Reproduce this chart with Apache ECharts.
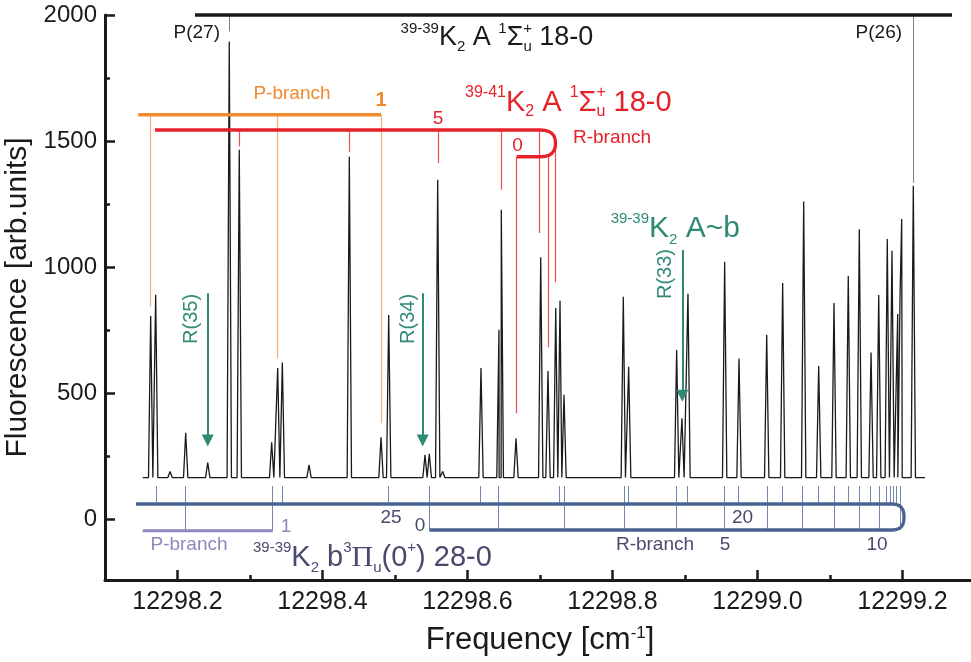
<!DOCTYPE html>
<html><head><meta charset="utf-8">
<script src="https://cdn.jsdelivr.net/npm/echarts@6/dist/echarts.min.js"></script>
<style>html,body{margin:0;padding:0;background:#fff}#c{width:971px;height:662px}</style>
</head><body><div id="c"></div>
<script>
const FONT = '"Liberation Sans", Arial, sans-serif';
const SERIF = '"Liberation Serif", "Times New Roman", serif';

// ---- axes ----
const xMajorTicks = [12298.2, 12298.4, 12298.6, 12298.8, 12299.0, 12299.2];
const xMinorTicks = [12298.3, 12298.5, 12298.7, 12298.9, 12299.1];
const yMajorTicks = [0, 500, 1000, 1500, 2000];
const yMinorTicks = [250, 750, 1250, 1750];

// ---- spectrum (peak positions / heights) ----
const peakX = [12298.1630,12298.1699,12298.1897,12298.2113,12298.2417,12298.2714,12298.2852,12298.3299,12298.3382,12298.3446,
  12298.3814,12298.4370,12298.4807,12298.4913,12298.5414,12298.5473,12298.5589,12298.5658,12298.6186,12298.6434,
  12298.6466,12298.6669,12298.7010,12298.7110,12298.7217,12298.7276,12298.7331,12298.8149,12298.8223,12298.8885,
  12298.8958,12298.9041,12298.9547,12298.9745,12299.0127,12299.0347,12299.0637,12299.0844,12299.1055,12299.1252,
  12299.1404,12299.1566,12299.1672,12299.1790,12299.1855,12299.1934,12299.1966,12299.1989,12299.2149];
const peakY = [807,891,190,344,225,1895,1466,306,600,622,
  216,1438,326,811,256,260,1347,190,600,752,
  1228,322,1040,589,838,867,494,883,605,672,
  401,895,1022,638,732,937,1261,608,858,965,
  1151,662,890,1112,1065,815,884,1191,1323];
const baseline = 166;
const spectrumStart = 12298.152, spectrumEnd = 12299.231;
const peakHalfWidth = 0.003;

// ---- annotation geometry (data coordinates) ----
const topBar = [[12298.2241, 2000], [12299.2683, 2000]];
const grayMarks = [[12298.2714, 2000, 1935], [12299.2149, 2000, 1335]];
const orangeBar = [[12298.1459, 1604.5], [12298.4807, 1604.5]];
const orangeMarks = [[12298.1630, 1604.5, 843], [12298.3382, 1604.5, 639], [12298.4807, 1604.5, 381]];
const redU = [[12298.1690,1544],[12298.7000,1544],[12298.7124,1538],[12298.7193,1520],[12298.7214,1491],
  [12298.7193,1463],[12298.7124,1444],[12298.7000,1438],[12298.6679,1438]];
const redMarks = [[12298.2852,1544,1479],[12298.4370,1544,1458],[12298.5597,1544,1413],[12298.6462,1544,1307],
  [12298.6679,1438,421],[12298.6991,1544,1136],[12298.7110,1444,683],[12298.7217,1491,940]];
const greenArrows = [[12298.2417, 897, 289], [12298.5382, 897, 289], [12298.8963, 1068, 466]];
const blueU = [[12298.1428,61.3],[12299.1855,61.3],[12299.1952,55.3],[12299.2007,37.5],[12299.2021,9.7],
  [12299.2007,-18.1],[12299.1952,-35.9],[12299.1855,-41.8],[12298.5473,-41.8]];
const purpleBar = [[12298.1520, -44.5], [12298.3313, -44.5]];
const blueUpperTop = 132.7, blueUpperY = 61.3, blueLowerY = -41.8, purpleY = -44.5;
const blueMarksUpper = [12298.1703,12298.3446,12298.4913,12298.6182,12298.7266,12298.8218,12298.9037,12298.9741,
  12299.0348,12299.0838,12299.1252,12299.1561,12299.1782,12299.1837,12299.1876,12299.1920];
const blueMarksLower = [12298.5473,12298.6430,12298.7331,12298.8159,12298.8886,12298.9538,12299.0135,12299.0623,
  12299.1059,12299.1404,12299.1676,12299.1966];
const blueMarksPurple = [12298.2103, 12298.3313];

// ---- colours ----
const C = {
  black: '#1a1a1a', gray: '#808080', orange: '#f08a2c', orangeL: '#f6ae72', red: '#e62129', redL: '#ef4d52',
  green: '#2f8a75', blue: '#4a6291', blueL: '#7386ae', purple: '#8c88bd', slate: '#4a4a6e'
};

// build spectrum points
const spec = [[spectrumStart, baseline]];
peakX.forEach((x, i) => {
  spec.push([x - peakHalfWidth, baseline], [x, peakY[i]], [x + peakHalfWidth, baseline]);
});
spec.push([spectrumEnd, baseline]);
spec.sort((a, b) => a[0] - b[0]);

const seg = (list, color, width) => ({
  type: 'lines', coordinateSystem: 'cartesian2d', silent: true, z: 3,
  lineStyle: { color, width, opacity: 1 },
  data: list.map(m => ({ coords: [[m[0], m[1]], [m[0], m[2]]] }))
});
const poly = (pts, color, width, smooth) => ({
  type: 'line', data: pts, symbol: 'none', smooth: smooth || false, clip: false, silent: true, z: 4,
  lineStyle: { color, width }
});

const series = [
  { type: 'line', data: spec, symbol: 'none', silent: true, z: 2, lineStyle: { color: C.black, width: 1.3 } },
  poly(topBar, C.black, 3.5),
  seg(grayMarks, C.gray, 1),
  poly(orangeBar, C.orange, 3.3),
  seg(orangeMarks, C.orangeL, 1.2),
  poly(redU, C.red, 3.3, 0.4),
  seg(redMarks, C.redL, 1.2),
  poly(blueU, C.blue, 3.3, 0.4),
  poly(purpleBar, C.purple, 3),
  seg(blueMarksUpper.map(x => [x, blueUpperTop, blueUpperY]), C.blueL, 1),
  seg(blueMarksLower.map(x => [x, blueUpperTop, blueLowerY]), C.blueL, 1),
  seg(blueMarksPurple.map(x => [x, blueUpperTop, purpleY]), C.blueL, 1),
  {
    type: 'lines', coordinateSystem: 'cartesian2d', silent: true, z: 5,
    symbol: ['none', 'triangle'], symbolSize: 12,
    lineStyle: { color: C.green, width: 2, opacity: 1 },
    data: greenArrows.map(a => ({ coords: [[a[0], a[1]], [a[0], a[2] + 24]] }))
  }
];

const chart = echarts.init(document.getElementById('c'), null, { renderer: 'canvas' });
const axisCommon = { type: 'value', splitLine: { show: false } };
chart.setOption({
  animation: false,
  backgroundColor: '#fff',
  textStyle: { fontFamily: FONT },
  grid: { left: 105, top: 15, width: 870, height: 565, containLabel: false, outerBoundsMode: 'none' },
  xAxis: [
    Object.assign({}, axisCommon, {
      min: 12298.1, max: 12299.3, position: 'bottom',
      axisLine: { onZero: false, lineStyle: { color: C.black, width: 3 } },
      axisTick: { inside: true, length: 10, lineStyle: { width: 2.5, color: C.black }, customValues: xMajorTicks },
      axisLabel: { customValues: xMajorTicks, formatter: v => v.toFixed(1), fontSize: 25, color: C.black, margin: 10, fontFamily: FONT },
      name: 'Frequency [cm{s|-1}]', nameLocation: 'middle', nameGap: 45,
      nameTextStyle: { fontSize: 31, color: C.black, fontFamily: FONT,
        rich: { s: { fontSize: 17, verticalAlign: 'top', lineHeight: 24, color: C.black, fontFamily: FONT } } }
    }),
    Object.assign({}, axisCommon, {
      min: 12298.1, max: 12299.3, position: 'bottom',
      axisLine: { show: false, onZero: false },
      axisTick: { inside: true, length: 5, lineStyle: { width: 2.5, color: C.black }, customValues: xMinorTicks },
      axisLabel: { show: false }
    })
  ],
  yAxis: [
    Object.assign({}, axisCommon, {
      min: -240, max: 2000, position: 'left',
      axisLine: { show: true, onZero: false, lineStyle: { color: C.black, width: 3 } },
      axisTick: { show: true, inside: true, length: 10, lineStyle: { width: 2.5, color: C.black }, customValues: yMajorTicks },
      axisLabel: { customValues: yMajorTicks, formatter: v => String(v), fontSize: 24, color: C.black, margin: 8, fontFamily: FONT },
      name: 'Fluorescence [arb.units]', nameLocation: 'middle', nameGap: 65,
      nameTextStyle: { fontSize: 30, color: C.black, fontFamily: FONT }
    }),
    Object.assign({}, axisCommon, {
      min: -240, max: 2000, position: 'left',
      axisLine: { show: false, onZero: false },
      axisTick: { show: true, inside: true, length: 5, lineStyle: { width: 2.5, color: C.black }, customValues: yMinorTicks },
      axisLabel: { show: false }
    })
  ],
  series: series
});

// ---- annotation texts (positions in data coordinates) ----
function richSet(color, main, small) {
  return {
    m: { fill: color, fontSize: main, fontFamily: FONT, lineHeight: main + 6 },
    mp: { fill: color, fontSize: main + 1, fontFamily: SERIF, lineHeight: main + 6 },
    sup: { fill: color, fontSize: small, fontFamily: FONT, lineHeight: small + 4, verticalAlign: 'top' },
    supz: { fill: color, fontSize: small, fontFamily: FONT, lineHeight: small + 4, verticalAlign: 'top', width: 0.1 },
    sub: { fill: color, fontSize: small, fontFamily: FONT, lineHeight: small + 2, verticalAlign: 'bottom' }
  };
}
const texts = [
  { t: 'P(27)', x: 12298.2586, y: 1929, c: C.black, s: 19, a: 'right' },
  { t: 'P(26)', x: 12299.1994, y: 1929, c: C.black, s: 19, a: 'right' },
  { t: '{sup|39-39}{m|K}{sub|2}{m| A }{sup|1}{m|Σ}{supz|+}{sub|u}{m| 18-0}', x: 12298.5077, y: 1909, c: C.black, rich: richSet(C.black, 27, 15), a: 'left' },
  { t: 'P-branch', x: 12298.3579, y: 1687, c: C.orange, s: 19, a: 'center' },
  { t: '1', x: 12298.4807, y: 1663, c: C.orange, s: 20, a: 'center', w: 'bold' },
  { t: '{sup|39-41}{m|K}{sub|2}{m| A }{sup|1}{m|Σ}{supz|+}{sub|u}{m| 18-0}', x: 12298.5966, y: 1653, c: C.red, rich: richSet(C.red, 29, 16), a: 'left' },
  { t: '5', x: 12298.5593, y: 1588, c: C.red, s: 19, a: 'center' },
  { t: '0', x: 12298.6690, y: 1481, c: C.red, s: 19, a: 'center' },
  { t: 'R-branch', x: 12298.7455, y: 1512, c: C.red, s: 19, a: 'left' },
  { t: '{sup|39-39}{m|K}{sub|2}{m| A~b}', x: 12298.7975, y: 1152, c: C.green, rich: richSet(C.green, 30, 15), a: 'left' },
  { t: 'R(35)', x: 12298.2193, y: 795, c: C.green, s: 20, a: 'center', r: 1 },
  { t: 'R(34)', x: 12298.5183, y: 795, c: C.green, s: 20, a: 'center', r: 1 },
  { t: 'R(33)', x: 12298.8724, y: 973, c: C.green, s: 20, a: 'center', r: 1 },
  { t: '1', x: 12298.3497, y: -30, c: C.purple, s: 19, a: 'center' },
  { t: 'P-branch', x: 12298.2159, y: -101, c: C.purple, s: 19, a: 'center' },
  { t: '25', x: 12298.4945, y: 6, c: C.slate, s: 19, a: 'center' },
  { t: '0', x: 12298.5345, y: -26, c: C.slate, s: 19, a: 'center' },
  { t: '20', x: 12298.9793, y: 6, c: C.slate, s: 19, a: 'center' },
  { t: 'R-branch', x: 12298.8586, y: -101, c: C.slate, s: 19, a: 'center' },
  { t: '5', x: 12298.9552, y: -101, c: C.slate, s: 19, a: 'center' },
  { t: '10', x: 12299.1648, y: -101, c: C.slate, s: 19, a: 'center' },
  { t: '{sup|39-39}{m|K}{sub|2}{m| b}{sup|3}{mp|Π}{sub|u}{m|(0}{sup|+}{m|) 28-0}', x: 12298.3041, y: -153, c: C.slate, rich: richSet(C.slate, 29, 15), a: 'left' }
];
const graphics = texts.map(o => {
  const p = chart.convertToPixel({ xAxisIndex: 0, yAxisIndex: 0 }, [o.x, o.y]);
  const style = { text: o.t, fill: o.c, fontFamily: FONT, fontSize: o.s || 17, fontWeight: o.w || 'normal',
    align: o.a, verticalAlign: 'middle' };
  if (o.rich) style.rich = o.rich;
  return { type: 'text', x: p[0], y: p[1], rotation: o.r ? Math.PI / 2 : 0, silent: true, z: 100, style };
});
chart.setOption({ graphic: graphics });
</script>
</body></html>
